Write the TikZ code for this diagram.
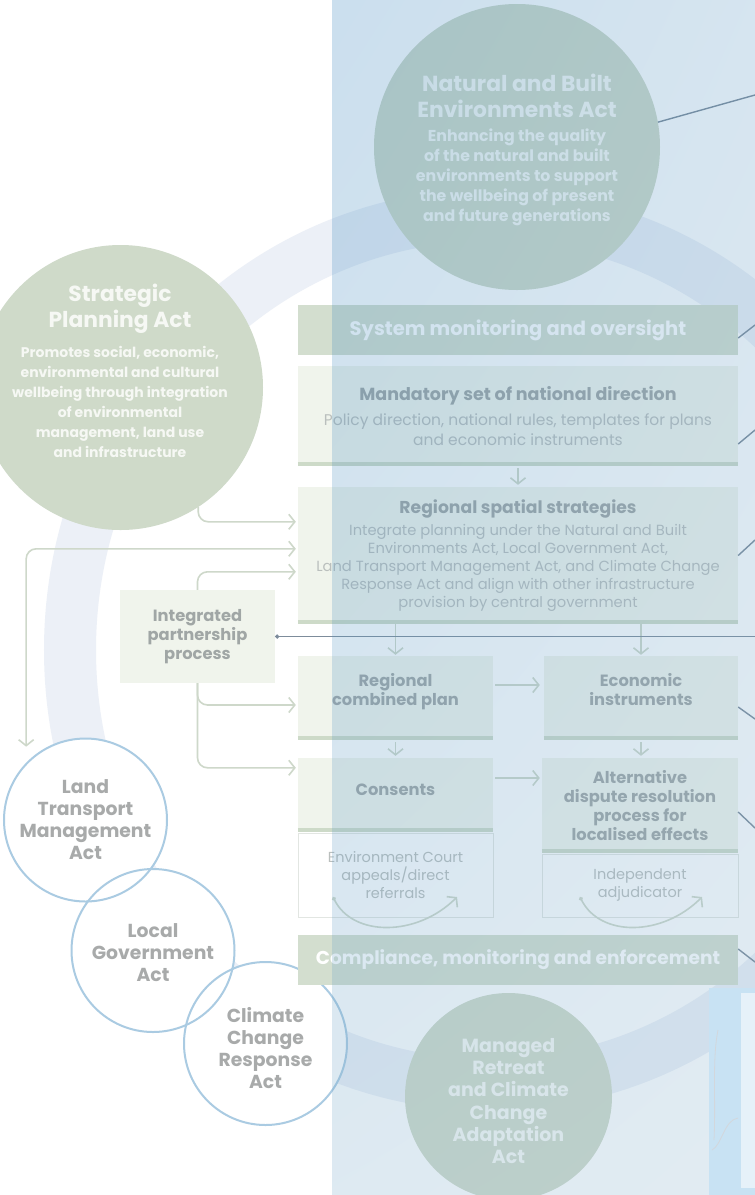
\documentclass[tikz,border=0pt]{standalone}
\usepackage{fontspec}
\setmainfont{Poppins}
\usetikzlibrary{arrows.meta,positioning,shadings}

\begin{document}
\begin{tikzpicture}[x=1pt,y=-1pt,
  >={Straight Barb[length=6pt,width=15pt]},
  actdisc/.style={circle,fill=pl_sage,inner sep=-10pt,minimum size=#1},
  acttitle/.style={text=pl_ctext,align=center,font=\bfseries\fontsize{21.8}{26}\selectfont},
  actbody/.style={text=pl_ctext,align=center,font=\bfseries\fontsize{15.8}{20}\selectfont},
  lawdisc/.style={circle,draw=pl_blue,line width=2,minimum size=163,inner sep=-15pt,
    text=pl_law,align=center,font=\bfseries\fontsize{18.8}{22}\selectfont},
  bar/.style={fill=pl_bar,minimum width=440,minimum height=50,inner sep=0pt,
    text=white,font=\bfseries\fontsize{18.6}{21}\selectfont},
  stage/.style={fill=pl_light,inner sep=0pt,text=pl_title,align=center,
    font=\bfseries\fontsize{16.3}{19}\selectfont},
  note/.style={draw=pl_frame,line width=0.8,fill=white,inner sep=0pt,text=pl_body,
    align=center,font=\fontsize{14.5}{18}\selectfont},
  flow/.style={draw=pl_arrow,line width=1.6,rounded corners=10,->},
  loopback/.style={draw=pl_arrow,line width=1.6,
    {Circle[length=4pt]}-{Straight Barb[length=6pt,width=15pt]}},
  rule/.style={draw=pl_rule,line width=4},
  lead/.style={draw=pl_lead,line width=1.4}]

% ------------------------------------------------ planning system colors
\definecolor{pl_sage}{RGB}{207,218,201}
\definecolor{pl_ctext}{RGB}{246,248,244}
\definecolor{pl_bar}{RGB}{211,222,207}
\definecolor{pl_light}{RGB}{240,244,236}
\definecolor{pl_rule}{RGB}{205,218,200}
\definecolor{pl_ring}{RGB}{236,240,247}
\definecolor{pl_arrow}{RGB}{206,216,202}
\definecolor{pl_title}{RGB}{160,166,165}
\definecolor{pl_body}{RGB}{186,191,189}
\definecolor{pl_frame}{RGB}{226,230,226}
\definecolor{pl_blue}{RGB}{170,203,226}
\definecolor{pl_law}{RGB}{168,170,170}
\definecolor{pl_lead}{RGB}{125,140,155}
\definecolor{pl_photo}{RGB}{200,226,243}
% overlay panel
\definecolor{pl_ovA}{RGB}{48,128,188}
\definecolor{pl_ovB}{RGB}{92,152,196}
\definecolor{pl_ovC}{RGB}{124,172,204}
\definecolor{pl_ovD}{RGB}{140,180,208}

\useasboundingbox (0,0) rectangle (755,1195);
\fill[white] (0,0) rectangle (755,1195);

% ------------------------------------------------ background ring
\draw[pl_ring,line width=52] (490,650) ellipse [x radius=420,y radius=435];

% ------------------------------------------------ acts
\node[actdisc=286] (nbe) at (517,147) {};
\node[acttitle] (nbetitle) at (517,96) {Natural and Built\\Environments Act};
\node[actbody] (nbebody) at (517,177) {Enhancing the quality\\of the natural and built\\environments to support\\the wellbeing of present\\and future generations};

\node[actdisc=285] (spa) at (120.5,387.5) {};
\node[acttitle] (spatitle) at (120,309) {Strategic\\Planning Act};
\node[actbody,font=\bfseries\fontsize{14}{20}\selectfont] (spabody) at (120,402) {Promotes social, economic,\\environmental and cultural\\wellbeing through integration\\of environmental\\management, land use\\and infrastructure};

\node[actdisc=207,text=pl_ctext,align=center,text height=134pt,font=\bfseries\fontsize{19}{22.2}\selectfont] (mrca) at (508.5,1096.5) {Managed\\Retreat\\and Climate\\Change\\Adaptation\\Act};

\foreach \p in {(85.5,820),(153,950.5),(265.5,1043.5)}
  \fill[white] \p circle [radius=81.5];
\node[lawdisc] (ltma) at (85.5,820) {Land\\Transport\\Management\\Act};
\node[lawdisc,text height=63pt] (lga) at (153,950.5) {Local\\Government\\Act};
\node[lawdisc,text height=91pt] (ccra) at (265.5,1043.5) {Climate\\Change\\Response\\Act};

% ------------------------------------------------ system boxes
\node[bar,font=\bfseries\fontsize{19.5}{21}\selectfont] (sysbar) at (518,330) {System monitoring and oversight};

\node[stage,minimum width=440,minimum height=100,text=pl_body,font=\fontsize{15.5}{20}\selectfont] (mand) at (518,416)
  {{\bfseries\fontsize{17.5}{20}\selectfont\color{pl_title}Mandatory set of national direction}\\[5pt]
   Policy direction, national rules, templates for plans\\and economic instruments};

\node[stage,minimum width=440,minimum height=137,text=pl_body,font=\fontsize{14.7}{18}\selectfont] (rss) at (518,555.5)
  {{\bfseries\fontsize{17.2}{20}\selectfont\color{pl_title}Regional spatial strategies}\\[4pt]
   Integrate planning under the Natural and Built\\Environments Act, Local Government Act,\\Land Transport Management Act, and Climate Change\\Response Act and align with other infrastructure\\provision by central government};

\node[stage,minimum width=155,minimum height=93] (ipp) at (197.5,636.5) {Integrated\\partnership\\process};

\node[stage,minimum width=195,minimum height=84,text depth=18pt] (rcp) at (395.5,698) {Regional\\combined plan};
\node[stage,minimum width=194,minimum height=84,text depth=18pt] (ecin) at (641,698) {Economic\\instruments};
\node[stage,minimum width=195,minimum height=74,text depth=10pt] (cons) at (395.5,795) {Consents};
\node[stage,minimum width=196,minimum height=95] (adr) at (640,805.5) {Alternative\\dispute resolution\\process for\\localised effects};

\node[note,minimum width=195,minimum height=84] (ecbox) at (395.5,875) {Environment Court\\appeals/direct\\referrals};
\node[note,minimum width=196,minimum height=63] (iabox) at (640,885.5) {Independent\\adjudicator};

\node[bar] (compbar) at (518,960) {Compliance, monitoring and enforcement};

\foreach \n in {mand,rss,rcp,ecin,cons,adr}
  \draw[rule] ([yshift=2pt]\n.south west) -- ([yshift=2pt]\n.south east);

% ------------------------------------------------ flows
\draw[flow,shorten <=2pt,shorten >=2pt] (mand.south) -- (rss.north);
\draw[flow,shorten >=1pt] (rss.south -| rcp.north) -- (rcp.north);
\draw[flow,shorten >=1pt] (rss.south -| ecin.north) -- (ecin.north);
\draw[flow,shorten <=2pt,shorten >=2pt] (rcp.south) -- (cons.north);
\draw[flow,shorten <=2pt,shorten >=2pt] (ecin.south) -- (ecin.south |- adr.north);
\draw[flow,shorten <=2pt,shorten >=4pt] ([yshift=13pt]rcp.east) -- ([yshift=13pt]rcp.east -| ecin.west);
\draw[flow,shorten <=2pt,shorten >=2pt] ([yshift=17pt]cons.east) -- ([yshift=17pt]cons.east -| adr.west);

\draw[flow,shorten >=2pt] (spa.-57) |- ([yshift=-35pt]rss.north west);
\draw[flow,<->,shorten <=2pt] ([yshift=-62pt]rss.north west) -| ([yshift=16pt]ltma.136);
\draw[flow,shorten >=2pt] (ipp.north) |- ([yshift=-85pt]rss.north west);
\draw[flow,shorten >=2pt] (ipp.south) |- ([yshift=-7pt]rcp.west);
\draw[flow,shorten >=2pt] (ipp.south) |- ([yshift=-10pt]cons.north west);

\draw[loopback] ([shift={(-62.5,22)}]ecbox.center) .. controls +(20,40) and +(-40,40) .. ([shift={(61.5,22)}]ecbox.center);
\draw[loopback] ([shift={(-60,11.5)}]iabox.center) .. controls +(20,40) and +(-40,40) .. ([shift={(62,11.5)}]iabox.center);

% ------------------------------------------------ leaders to the right
\coordinate (e0) at (755,95);
\coordinate (e1) at (755,325);
\coordinate (e2) at (755,430);
\coordinate (e3) at (755,540);
\coordinate (e4) at (755,636.5);
\coordinate (e5) at (755,719);
\coordinate (e6) at (755,828);
\coordinate (e7) at (755,962);
\draw[lead] (nbe.10) -- (e0);
\draw[lead] ([yshift=-8pt]sysbar.east) -- (e1);
\draw[lead] ([yshift=-28pt]mand.east) -- (e2);
\draw[lead] (rss.east) -- (e3);
\draw[lead,{Circle[length=4pt]}-] (ipp.east) -- (e4);
\draw[lead] ([yshift=-9pt]ecin.east) -- (e5);
\draw[lead] ([yshift=-6.5pt]adr.east) -- (e6);
\draw[lead] ([yshift=11pt]compbar.east) -- (e7);

% ------------------------------------------------ blue overlay panel
\shade[upper left=pl_ovA,upper right=pl_ovB,lower left=pl_ovC,lower right=pl_ovD,opacity=0.25]
  (332,0) rectangle (755,1195);

% photo strip
\fill[pl_photo] (709,988) rectangle (755,1195);
\fill[white,opacity=0.55] (741,993) rectangle (755,1188);
\draw[pl_lead!35,line width=0.8] (714,1140) .. controls (716,1100) and (712,1060) .. (718,1030);
\draw[pl_lead!35,line width=0.8] (712,1150) .. controls (722,1145) and (724,1120) .. (738,1118);

\end{tikzpicture}
\end{document}
